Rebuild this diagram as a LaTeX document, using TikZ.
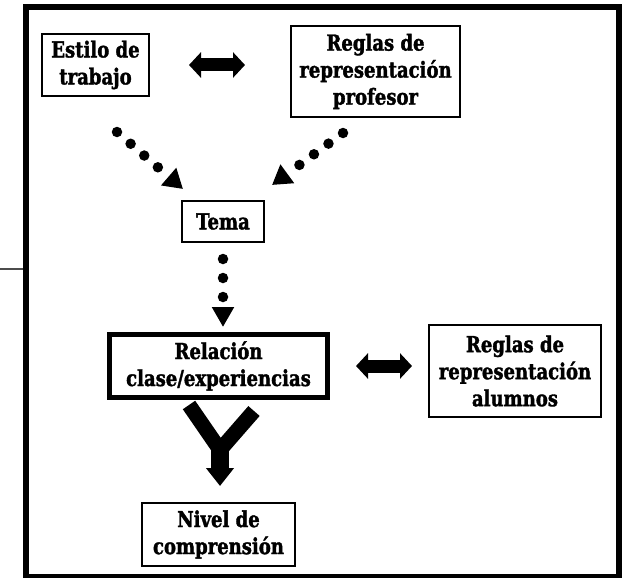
\documentclass[tikz,border=0pt]{standalone}
\usepackage{fontspec}
\setmainfont{DejaVu Serif}[FakeStretch=0.82,BoldFeatures={FakeBold=1.6}]
\usetikzlibrary{arrows.meta,calc}
\begin{document}
\begin{tikzpicture}[x=1pt,y=-1pt,
  txt/.style={font=\fontsize{22}{27}\selectfont\bfseries},
  box/.style={draw,line width=2pt,align=center,inner sep=0pt,txt},
  thickbox/.style={draw,line width=5pt,align=center,inner sep=0pt,txt},
  dbl/.style={line width=13pt,{Triangle[width=25pt,length=12pt]}-{Triangle[width=25pt,length=12pt]}},
  dots/.style={line width=10.5pt,line cap=round,dash pattern=on 0pt off 18pt,-{Triangle[width=22pt,length=19pt]}},
  bigarrow/.style={line width=18pt,-{Triangle[width=27pt,length=18pt]}}
]
\useasboundingbox (0,0) rectangle (627,578);
\fill[white] (0,0) rectangle (627,578);
% outer frame
\draw[line width=6pt] (26,7) rectangle (619,577);
\draw[line width=1.5pt,black!70] (0,269) -- (23,269);

% nodes
\node[box,minimum width=107pt,minimum height=62pt] (estilo) at (95.5,65) {Estilo de\\trabajo};
\node[box,minimum width=169pt,minimum height=91pt] (reglas) at (375.5,71.5) {Reglas de\\representación\\profesor};
\node[box,minimum width=82pt,minimum height=41pt] (tema) at (223,221.5) {Tema};
\node[thickbox,minimum width=218pt,minimum height=63pt] (relacion) at (218.5,366) {Relación\\clase/experiencias};
\node[box,minimum width=172pt,minimum height=92pt] (alumnos) at (515,371) {Reglas de\\representación\\alumnos};
\node[box,minimum width=153pt,minimum height=63pt] (nivel) at (218.5,534.5) {Nivel de\\comprensión};

% double arrows
\draw[dbl] ($(estilo.east)+(39,0)$) -- ($(estilo.east -| reglas.west)+(-45,0)$);
\draw[dbl] ($(relacion.east)+(26,0)$) -- ($(relacion.east -| alumnos.west)+(-16,0)$);

% dotted arrows
\coordinate (ls) at ($(estilo.south)+(21.5,35)$);
\coordinate (lt) at ($(tema.north west)+(2,-11)$);
\coordinate (rs) at ($(reglas.south)+(-32.5,15)$);
\coordinate (rt) at ($(tema.north east)+(7,-15)$);
\draw[dots] (ls) -- (lt);
\draw[dots] (rs) -- (rt);
\draw[dots,dash pattern=on 0pt off 19pt,-{Triangle[width=21pt,length=20pt]}] ($(tema.south)+(0,16)$) -- ($(tema.south |- relacion.north)+(0,-5)$);

% Y arrow
\draw[line width=15pt,line join=miter] ($(relacion.south)+(-29.5,5)$) -- ($(relacion.south)+(1.5,50)$) -- ($(relacion.south)+(35.5,11)$);
\draw[bigarrow] ($(relacion.south)+(1.5,47)$) -- ($(nivel.north)+(1.5,-16)$);
\end{tikzpicture}
\end{document}
